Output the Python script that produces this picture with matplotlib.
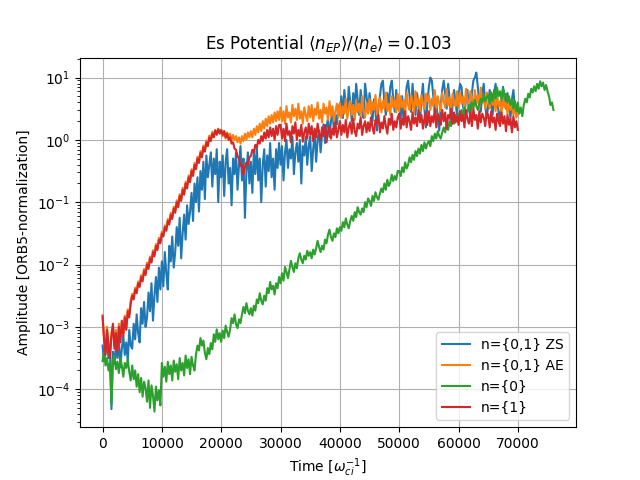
import matplotlib
matplotlib.use("Agg")
import matplotlib.pyplot as plt
import numpy as np

# sample spacing of the time traces
dt = 250

# log10 amplitudes, one row per 5000 time units
zs_log = [
    -3.30, -3.55, -3.40, -3.25, -3.50, -3.35, -4.32, -3.40, -3.60, -3.30, -3.50, -3.20, -3.65, -3.35, -3.15, -3.45, -3.25, -3.55, -3.05, -3.30,
    -3.35, -2.95, -3.20, -2.80, -3.10, -3.25, -2.70, -2.95, -2.60, -3.00, -2.85, -2.45, -2.75, -2.30, -2.90, -2.50, -2.20, -2.60, -2.05, -2.40,
    -1.95, -2.35, -1.80, -2.15, -2.40, -1.70, -1.95, -1.55, -2.05, -1.80, -1.40, -1.70, -1.25, -1.90, -1.50, -1.20, -1.60, -1.05, -1.35, -1.15,
    -0.85, -1.30, -0.70, -1.00, -0.60, -1.15, -0.50, -0.80, -0.35, -0.95, -0.25, -0.60, -0.40, -0.20, -0.75, -0.30, -0.55, -0.15, -1.00, -0.35,
    -0.60, -0.25, -0.90, -0.35, -0.15, -0.70, -0.45, -1.05, -0.30, -0.55, -0.20, -0.80, -0.40, -0.10, -0.65, -0.30, -1.25, -0.50, -0.20, -0.70,
    -0.35, -0.85, -0.20, -0.55, -0.10, -0.65, -0.30, -1.00, -0.40, -0.15, -0.75, -0.25, -0.50, -0.05, -0.60, -0.30, -0.80, -0.15, -0.45, -0.05,
    -0.40, -0.10, -0.65, -0.20, 0.00, -0.45, -0.15, -0.30, 0.05, -0.55, -0.20, -0.05, -0.35, 0.00, -0.70, -0.10, -0.25, 0.05, -0.40, -0.10,
    0.05, -0.50, -0.15, 0.10, -0.35, 0.00, 0.15, -0.20, 0.10, 0.25, -0.05, 0.20, 0.35, 0.05, 0.30, 0.45, 0.15, 0.40, 0.25, 0.55,
    0.40, 0.70, 0.35, 0.80, 0.55, 0.45, 0.85, 0.60, 0.30, 0.75, 0.50, 0.90, 0.65, 0.40, 0.80, 0.55, 0.35, 0.90, 0.70, 0.45,
    0.75, 0.55, 0.30, 0.65, 0.45, 0.15, 0.50, 0.70, 0.90, 0.95, 0.60, 0.40, 0.75, 0.55, 0.85, 0.95, 0.65, 0.45, 0.80, 0.50,
    0.60, 0.35, 0.70, 0.25, 0.55, 0.85, 0.95, 0.70, 0.45, 0.90, 0.60, 0.40, 0.75, 0.55, 0.30, 0.65, 0.90, 0.50, 0.20, 0.60,
    0.85, 1.00, 0.95, 0.70, 0.45, 0.60, 0.35, 0.15, 0.55, 0.80, 0.95, 0.75, 0.50, 0.90, 0.65, 0.30, 0.55, 0.80, 0.60, 0.40,
    0.70, 0.90, 0.85, 0.55, 0.40, 0.65, 0.80, 0.50, 0.35, 0.75, 0.95, 1.00, 1.08, 0.85, 0.60, 0.45, 0.75, 0.90, 0.55, 0.35,
    0.55, 0.80, 0.60, 0.40, 0.75, 0.90, 0.65, 0.45, 0.30, 0.60, 0.85, 0.70, 0.50, 0.75, 0.55, 0.35, 0.65, 0.80, 0.50, 0.40,
    0.55,
]

ae_log = [
    -2.85, -3.15, -3.40, -3.00, -3.25, -3.45, -3.10, -2.98, -3.30, -3.05, -3.35, -2.95, -3.20, -2.92, -3.10, -2.82, -3.00, -2.72, -2.80, -2.58,
    -2.47, -2.53, -2.37, -2.43, -2.27, -2.33, -2.17, -2.24, -2.07, -2.14, -1.97, -2.04, -1.87, -1.94, -1.77, -1.84, -1.67, -1.74, -1.57, -1.63,
    -1.47, -1.52, -1.37, -1.43, -1.27, -1.33, -1.17, -1.24, -1.07, -1.14, -0.97, -1.05, -0.87, -0.95, -0.77, -0.85, -0.67, -0.75, -0.57, -0.65,
    -0.47, -0.55, -0.37, -0.44, -0.27, -0.34, -0.18, -0.25, -0.09, -0.16, -0.01, -0.07, 0.07, 0.01, 0.13, 0.07, 0.16, 0.10, 0.18, 0.12,
    0.16, 0.06, 0.14, 0.02, 0.12, 0.04, 0.10, -0.02, 0.08, 0.00, 0.06, -0.04, 0.04, -0.06, 0.06, -0.02, 0.10, 0.00, 0.12, 0.04,
    0.14, 0.04, 0.18, 0.08, 0.22, 0.12, 0.26, 0.14, 0.30, 0.18, 0.34, 0.22, 0.38, 0.26, 0.40, 0.28, 0.44, 0.30, 0.46, 0.32,
    0.52, 0.30, 0.46, 0.26, 0.54, 0.36, 0.44, 0.28, 0.56, 0.38, 0.50, 0.32, 0.58, 0.34, 0.46, 0.26, 0.52, 0.40, 0.30, 0.54,
    0.36, 0.56, 0.30, 0.50, 0.40, 0.60, 0.34, 0.48, 0.28, 0.58, 0.42, 0.52, 0.32, 0.62, 0.38, 0.54, 0.30, 0.46, 0.58, 0.36,
    0.60, 0.36, 0.54, 0.42, 0.66, 0.34, 0.50, 0.62, 0.40, 0.56, 0.32, 0.64, 0.44, 0.58, 0.38, 0.70, 0.46, 0.36, 0.60, 0.42,
    0.66, 0.42, 0.60, 0.48, 0.72, 0.40, 0.56, 0.68, 0.44, 0.62, 0.50, 0.76, 0.46, 0.58, 0.40, 0.70, 0.52, 0.64, 0.44, 0.74,
    0.46, 0.70, 0.52, 0.64, 0.42, 0.76, 0.56, 0.48, 0.72, 0.60, 0.44, 0.78, 0.54, 0.66, 0.46, 0.72, 0.58, 0.50, 0.74, 0.62,
    0.72, 0.48, 0.66, 0.54, 0.80, 0.50, 0.70, 0.58, 0.46, 0.76, 0.62, 0.52, 0.82, 0.56, 0.68, 0.48, 0.74, 0.60, 0.54, 0.78,
    0.52, 0.76, 0.58, 0.70, 0.48, 0.82, 0.62, 0.54, 0.78, 0.66, 0.50, 0.80, 0.58, 0.72, 0.52, 0.84, 0.60, 0.68, 0.50, 0.76,
    0.70, 0.50, 0.76, 0.56, 0.66, 0.46, 0.72, 0.54, 0.62, 0.44, 0.70, 0.52, 0.60, 0.42, 0.64, 0.48, 0.56, 0.40, 0.52, 0.36,
    0.42,
]

n0_log = [
    -3.55, -3.40, -3.62, -3.50, -3.70, -3.58, -4.25, -3.52, -3.46, -3.68, -3.56, -3.74, -3.50, -3.62, -3.80, -3.58, -3.66, -3.52, -3.72, -3.86,
    -3.62, -3.84, -3.70, -3.96, -3.76, -4.05, -3.82, -4.12, -3.88, -3.98, -4.20, -3.86, -4.30, -3.94, -4.10, -4.36, -3.96, -4.18, -4.02, -4.26,
    -3.58, -3.80, -3.64, -3.88, -3.56, -3.76, -3.62, -3.86, -3.54, -3.72, -3.60, -3.84, -3.50, -3.70, -3.58, -3.78, -3.46, -3.66, -3.52, -3.76,
    -3.48, -3.62, -3.70, -3.44, -3.30, -3.38, -3.18, -3.30, -3.22, -3.42, -3.52, -3.34, -3.44, -3.26, -3.36, -3.12, -3.24, -3.04, -3.20, -3.10,
    -3.24, -3.06, -3.18, -2.98, -3.08, -3.16, -3.04, -2.86, -2.94, -2.80, -2.96, -3.02, -2.88, -2.94, -2.80, -2.68, -2.78, -2.62, -2.74, -2.80,
    -2.70, -2.82, -2.66, -2.74, -2.56, -2.62, -2.46, -2.58, -2.64, -2.50, -2.58, -2.38, -2.46, -2.28, -2.40, -2.34, -2.48, -2.30, -2.38, -2.20,
    -2.30, -2.14, -2.26, -2.04, -2.12, -2.22, -2.08, -1.94, -2.04, -2.12, -1.98, -2.06, -1.90, -1.82, -1.92, -1.98, -1.86, -1.92, -1.78, -1.86,
    -1.80, -1.90, -1.76, -1.84, -1.74, -1.62, -1.72, -1.80, -1.70, -1.76, -1.60, -1.66, -1.52, -1.44, -1.56, -1.62, -1.50, -1.56, -1.42, -1.50,
    -1.40, -1.46, -1.32, -1.40, -1.26, -1.36, -1.42, -1.30, -1.22, -1.30, -1.16, -1.24, -1.08, -1.16, -1.20, -1.10, -1.16, -1.00, -1.08, -0.94,
    -0.98, -1.06, -0.90, -0.98, -0.84, -0.92, -0.96, -0.86, -0.78, -0.84, -0.70, -0.80, -0.64, -0.74, -0.68, -0.56, -0.66, -0.58, -0.64, -0.50,
    -0.50, -0.58, -0.44, -0.52, -0.36, -0.46, -0.40, -0.28, -0.36, -0.24, -0.32, -0.18, -0.26, -0.14, -0.22, -0.08, -0.18, -0.04, -0.14, -0.06,
    -0.02, -0.10, 0.06, -0.02, 0.10, 0.02, 0.14, 0.06, 0.02, 0.12, 0.20, 0.12, 0.26, 0.16, 0.30, 0.22, 0.36, 0.26, 0.40, 0.32,
    0.42, 0.32, 0.48, 0.38, 0.52, 0.42, 0.46, 0.56, 0.48, 0.60, 0.52, 0.64, 0.54, 0.48, 0.58, 0.66, 0.60, 0.72, 0.62, 0.68,
    0.72, 0.58, 0.76, 0.62, 0.80, 0.66, 0.84, 0.70, 0.78, 0.64, 0.82, 0.68, 0.74, 0.60, 0.70, 0.56, 0.66, 0.50, 0.62, 0.46,
    0.60, 0.42, 0.52, 0.38, 0.56, 0.66, 0.60, 0.74, 0.68, 0.82, 0.76, 0.86, 0.78, 0.90, 0.82, 0.94, 0.86, 0.92, 0.80, 0.88,
    0.78, 0.70, 0.56, 0.60, 0.48,
]

n1_log = [
    -2.82, -3.20, -3.45, -3.05, -3.30, -3.50, -3.15, -2.95, -3.35, -3.10, -3.40, -3.00, -3.25, -2.90, -3.15, -2.85, -3.05, -2.75, -2.85, -2.62,
    -2.50, -2.56, -2.40, -2.46, -2.30, -2.36, -2.20, -2.27, -2.10, -2.17, -2.00, -2.07, -1.90, -1.97, -1.80, -1.87, -1.70, -1.77, -1.60, -1.66,
    -1.50, -1.55, -1.40, -1.46, -1.30, -1.36, -1.20, -1.27, -1.10, -1.17, -1.00, -1.08, -0.90, -0.98, -0.80, -0.88, -0.70, -0.78, -0.60, -0.68,
    -0.50, -0.58, -0.40, -0.47, -0.30, -0.37, -0.21, -0.28, -0.12, -0.19, -0.04, -0.10, 0.04, -0.02, 0.10, 0.04, 0.15, 0.08, 0.17, 0.10,
    0.16, 0.08, 0.14, 0.04, 0.10, 0.00, 0.04, -0.06, -0.04, -0.14, -0.16, -0.26, -0.30, -0.42, -0.40, -0.56, -0.44, -0.36, -0.40, -0.28,
    -0.26, -0.16, -0.20, -0.08, -0.12, 0.00, -0.06, 0.06, -0.02, 0.12, 0.02, 0.16, 0.04, 0.20, 0.06, 0.18, 0.00, 0.22, 0.08, 0.24,
    0.24, 0.02, 0.18, -0.02, 0.26, 0.08, 0.14, -0.04, 0.22, 0.10, 0.28, 0.00, 0.16, 0.06, 0.24, -0.03, 0.12, 0.20, 0.02, 0.26,
    0.08, 0.22, -0.02, 0.18, 0.04, 0.26, 0.10, 0.00, 0.20, 0.06, 0.24, -0.04, 0.14, 0.22, 0.02, 0.18, 0.08, 0.28, 0.04, 0.16,
    0.30, 0.08, 0.24, 0.12, 0.32, 0.04, 0.20, 0.28, 0.10, 0.34, 0.14, 0.06, 0.26, 0.18, 0.36, 0.08, 0.22, 0.30, 0.12, 0.28,
    0.14, 0.36, 0.20, 0.10, 0.32, 0.26, 0.40, 0.12, 0.28, 0.18, 0.38, 0.22, 0.10, 0.34, 0.24, 0.42, 0.16, 0.30, 0.20, 0.36,
    0.42, 0.18, 0.34, 0.24, 0.46, 0.20, 0.38, 0.30, 0.16, 0.44, 0.26, 0.36, 0.22, 0.48, 0.28, 0.40, 0.18, 0.34, 0.44, 0.24,
    0.46, 0.22, 0.38, 0.28, 0.50, 0.20, 0.42, 0.32, 0.24, 0.48, 0.30, 0.44, 0.18, 0.40, 0.34, 0.50, 0.26, 0.44, 0.28, 0.38,
    0.24, 0.46, 0.30, 0.40, 0.20, 0.48, 0.34, 0.26, 0.44, 0.22, 0.50, 0.32, 0.40, 0.18, 0.46, 0.28, 0.42, 0.36, 0.22, 0.44,
    0.40, 0.20, 0.46, 0.28, 0.36, 0.16, 0.42, 0.30, 0.22, 0.44, 0.26, 0.38, 0.14, 0.40, 0.24, 0.34, 0.12, 0.38, 0.20, 0.30,
    0.16,
]

assert len(zs_log) == 281 and len(ae_log) == 281 and len(n1_log) == 281, (len(zs_log), len(ae_log), len(n1_log))
assert len(n0_log) == 305, len(n0_log)

series = [
    (zs_log, 'n={0,1} ZS'),
    (ae_log, 'n={0,1} AE'),
    (n0_log, 'n={0}'),
    (n1_log, 'n={1}'),
]

fig, ax = plt.subplots(figsize=(6.4, 4.8), dpi=100)

for vals, lab in series:
    amp = 10.0 ** np.array(vals)
    t = np.arange(len(amp)) * dt
    ax.plot(t, amp, label=lab)

ax.set_yscale('log')
ax.set_ylim(10**-4.61, 10**1.32)
ax.grid(True)
ax.set_title(r'Es Potential $\langle n_{EP}\rangle/\langle n_e\rangle = 0.103$')
ax.set_xlabel(r'Time [$\omega_{ci}^{-1}$]')
ax.set_ylabel('Amplitude [ORB5-normalization]')
ax.legend(loc='lower right')

fig.savefig('out.png', dpi=100)
